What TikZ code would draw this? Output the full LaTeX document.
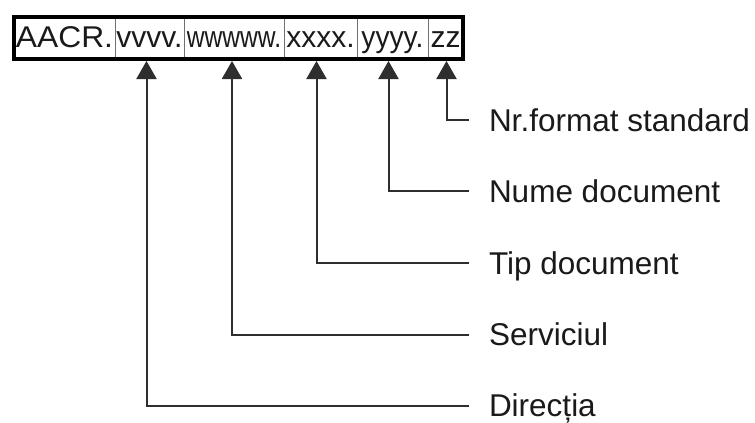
\documentclass[tikz,border=0pt]{standalone}
\usepackage{fontspec}
\setmainfont{Liberation Sans}
\usetikzlibrary{arrows.meta}
\definecolor{ink}{HTML}{1A1A1A}
\definecolor{linec}{HTML}{2E2E2E}
\definecolor{divc}{HTML}{707070}
\begin{document}
\begin{tikzpicture}[x=1pt,y=-1pt,
  cell/.style={draw=divc, line width=0.9pt, inner sep=0pt, minimum height=42pt,
    text height=22pt, text depth=4pt, font=\fontsize{30}{30}\selectfont, text=ink},
  lab/.style={anchor=west, inner sep=0pt, outer xsep=20pt, text height=24pt, text depth=2pt,
    font=\fontsize{31.5}{32}\selectfont, text=ink},
  conn/.style={draw=linec, line width=2pt, -{Triangle[width=20pt,length=18pt]}}]
\useasboundingbox (0,0) rectangle (755,423);
\fill[white] (0,0) rectangle (755,423);
% cells
\node[cell, minimum width=101pt] (c1) at (64.5,38) {\scalebox{1.06}[1]{AACR.}};
\node[cell, minimum width=69pt]  (c2) at (149.5,38) {vvvv.};
\node[cell, minimum width=100pt] (c3) at (234,38) {\scalebox{0.82}[1]{wwwww.}};
\node[cell, minimum width=73pt]  (c4) at (320.5,38) {xxxx.};
\node[cell, minimum width=71pt]  (c5) at (392.5,38) {\scalebox{0.94}[1]{yyyy.}};
\node[cell, minimum width=35pt]  (c6) at (445.5,38) {zz};
\draw[draw=black, line width=4pt] (c1.north west) rectangle (c6.south east);
% arrow targets on the box bottom
\coordinate (t1) at (146.5,61);
\coordinate (t2) at (232,61);
\coordinate (t3) at (316.5,61);
\coordinate (t4) at (388.5,61);
\coordinate (t5) at (446.5,61);
% labels
\node[lab] (l5) at (469,120) {Nr.format standard};
\node[lab] (l4) at (469,191) {Nume document};
\node[lab] (l3) at (469,263) {Tip document};
\node[lab] (l2) at (469,334.5) {Serviciul};
\node[lab] (l1) at (469,405.5) {Direcția};
% connectors
\draw[conn] (l5.west) -| (t5);
\draw[conn] (l4.west) -| (t4);
\draw[conn] (l3.west) -| (t3);
\draw[conn] (l2.west) -| (t2);
\draw[conn] (l1.west) -| (t1);
\end{tikzpicture}
\end{document}
